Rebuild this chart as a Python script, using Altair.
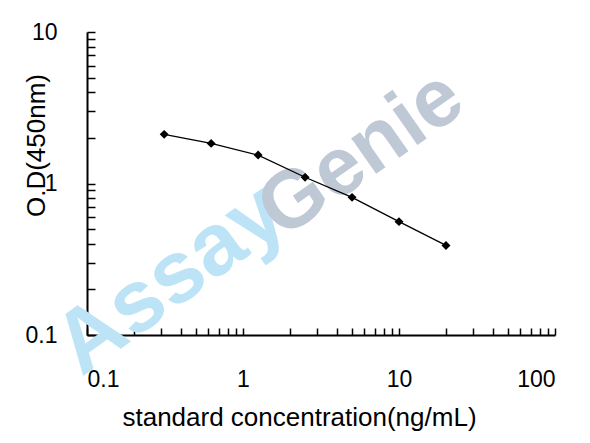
import altair as alt
import pandas as pd

# standard curve
conc = [0.3125, 0.625, 1.25, 2.5, 5, 10, 20]
od = [2.11, 1.84, 1.54, 1.10, 0.81, 0.56, 0.39]

x_labels = [0.1, 1, 10, 100]
y_labels = [0.1, 1, 10]
x_ticks = [0.1, 0.2, 0.3, 0.4, 0.5, 0.6, 0.7, 0.8, 0.9,
           1, 2, 3, 4, 5, 6, 7, 8, 9,
           10, 20, 30, 40, 50, 60, 70, 80, 90, 100]
y_ticks = [0.1, 0.2, 0.3, 0.4, 0.5, 0.6, 0.7, 0.8, 0.9,
           1, 2, 3, 4, 5, 6, 7, 8, 9, 10]

W, H = 468, 303
FONT = 'Liberation Sans'

df = pd.DataFrame({'conc': conc, 'od': od})
sx = alt.Scale(type='log', domain=[0.1, 100])
sy = alt.Scale(type='log', domain=[0.1, 10])

base = alt.Chart(df)

# watermark behind everything
mark_a = alt.Chart(pd.DataFrame({'t': ['Assay']})).mark_text(
    font=FONT, fontWeight='bold', fontSize=88, angle=324, color='#bde4f6',
    align='center', baseline='middle'
).encode(text='t:N', x=alt.value(84), y=alt.value(248))
mark_g = alt.Chart(pd.DataFrame({'t': ['Genie']})).mark_text(
    font=FONT, fontWeight='bold', fontSize=82, angle=325, color='#bfc9d5',
    align='center', baseline='middle'
).encode(text='t:N', x=alt.value(274), y=alt.value(122))

# axes with labels and titles, no ticks
line = base.mark_line(color='black', strokeWidth=1.3).encode(
    x=alt.X('conc:Q', scale=sx, axis=alt.Axis(
        values=x_labels, format='~g', ticks=False, tickSize=0, grid=False,
        labelPadding=44, labelBaseline='middle', labelFontSize=23,
        title='standard concentration(ng/mL)', titleFontSize=26,
        titleFontWeight='normal', titleX=212, titleY=82,
        titleBaseline='middle', titleAlign='center')),
    y=alt.Y('od:Q', scale=sy, axis=alt.Axis(
        values=y_labels, format='~g', ticks=False, tickSize=0, grid=False,
        labelPadding=30, labelFontSize=23,
        title='O.D(450nm)', titleFontSize=26, titleFontWeight='normal',
        titleX=-51, titleY=113, titleBaseline='middle', titleAlign='center')),
)

points = base.mark_point(shape='diamond', filled=True, color='black',
                         size=80, opacity=1).encode(
    x=alt.X('conc:Q', scale=sx, axis=None),
    y=alt.Y('od:Q', scale=sy, axis=None),
)

# inward-pointing ticks: axes on the far side, pulled back onto the frame
ticks = base.mark_point(opacity=0).encode(
    x=alt.X('conc:Q', scale=sx, axis=alt.Axis(
        orient='top', offset=-H, values=x_ticks, labels=False, domain=False,
        grid=False, tickSize=7, tickWidth=1.5, tickColor='black', title=None)),
    y=alt.Y('od:Q', scale=sy, axis=alt.Axis(
        orient='right', offset=-W, values=y_ticks, labels=False, domain=False,
        grid=False, tickSize=8, tickWidth=1.5, tickColor='black', title=None)),
)

chart = alt.layer(mark_a, mark_g, line, points, ticks).resolve_axis(
    x='independent', y='independent'
).properties(
    width=W, height=H,
    background='white',
    autosize=alt.AutoSizeParams(type='none'),
    padding={'left': 79, 'top': 24, 'right': 20, 'bottom': 100},
).configure_view(strokeWidth=0, stroke='transparent').configure_axis(
    labelFont=FONT, titleFont=FONT, labelColor='black', titleColor='black',
    domainColor='black', domainWidth=2,
)

chart.save('out.html', embed_options={'renderer': 'svg', 'actions': False})
